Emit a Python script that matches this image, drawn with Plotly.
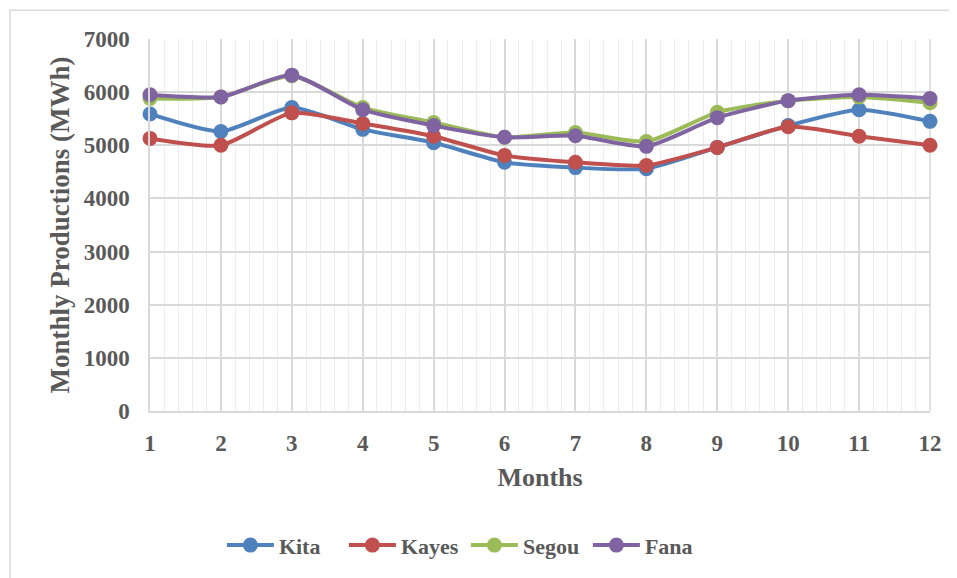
import plotly.graph_objects as go

months = [1, 2, 3, 4, 5, 6, 7, 8, 9, 10, 11, 12]
kita = [5590, 5260, 5710, 5300, 5050, 4680, 4580, 4560, 4960, 5370, 5670, 5450]
kayes = [5130, 5000, 5610, 5410, 5170, 4810, 4680, 4620, 4960, 5350, 5170, 5000]
segou = [5880, 5910, 6310, 5710, 5430, 5150, 5240, 5070, 5620, 5840, 5910, 5800]
fana = [5950, 5910, 6320, 5670, 5370, 5150, 5180, 4980, 5520, 5840, 5950, 5880]

series = [("Kita", kita, "#4F81BD"), ("Kayes", kayes, "#C0504D"),
          ("Segou", segou, "#9BBB59"), ("Fana", fana, "#8064A2")]

fig = go.Figure()
for name, vals, col in series:
    fig.add_trace(go.Scatter(
        x=months, y=vals, name=name, mode="lines+markers",
        line=dict(color=col, width=4, shape="spline", smoothing=0.6),
        marker=dict(color=col, size=15),
        cliponaxis=False,
    ))

font_family = "Liberation Serif"
grey = "#595959"

fig.update_layout(
    width=949, height=570,
    margin=dict(l=142, r=27, t=31, b=163),
    paper_bgcolor="white", plot_bgcolor="white",
    font=dict(family=font_family, color=grey, size=20),
    showlegend=True,
    legend=dict(orientation="h", x=0.405, xanchor="center", y=-0.361, yanchor="middle",
                font=dict(family=font_family, size=22, color=grey, weight="bold"),
                itemwidth=47, tracegroupgap=0, entrywidth=60, entrywidthmode="pixels"),
    xaxis=dict(range=[1, 12], tick0=1, dtick=1, showgrid=True, gridcolor="#d9d9d9", gridwidth=1.5,
               minor=dict(dtick=0.2, tick0=1, showgrid=True, gridcolor="#ececec", gridwidth=1),
               showline=True, linecolor="#d9d9d9", linewidth=1.5, zeroline=False,
               ticks="", ticklabelstandoff=11,
               tickfont=dict(family=font_family, size=23, color=grey, weight="bold"),
               title=dict(text="Months", standoff=12,
                          font=dict(family=font_family, size=26, color=grey, weight="bold"))),
    yaxis=dict(range=[0, 7000], dtick=1000, showgrid=True, gridcolor="#d9d9d9", gridwidth=1.5,
               showline=True, linecolor="#d9d9d9", linewidth=1.5, zeroline=False,
               ticks="", ticklabelstandoff=14,
               tickfont=dict(family=font_family, size=23, color=grey, weight="bold"),
               title=dict(text="Monthly Productions (MWh)", standoff=6,
                          font=dict(family=font_family, size=27, color=grey, weight="bold"))),
)

# right border of plot area
fig.add_shape(type="line", xref="paper", yref="paper", x0=1, x1=1, y0=0, y1=1,
              line=dict(color="#d9d9d9", width=1.5), layer="below")
# outer chart frame
fig.add_shape(type="rect", xref="paper", yref="paper", x0=-0.1795, x1=1.2, y0=-0.6, y1=1.0775,
              line=dict(color="#d9d9d9", width=1.5), layer="below")

fig.write_html("out.html")
